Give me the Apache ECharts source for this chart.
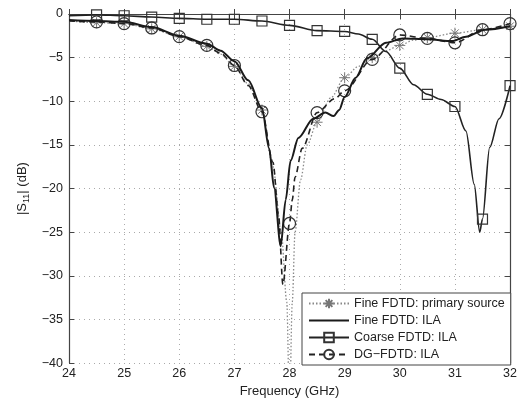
<!DOCTYPE html>
<html>
<head>
<meta charset="utf-8">
<script src="https://cdn.jsdelivr.net/npm/echarts@6/dist/echarts.min.js"></script>
<style>
  html, body { margin: 0; padding: 0; background: #fff; }
  #chart { width: 520px; height: 403px; }
</style>
</head>
<body>
<div id="chart"></div>
<script>
// GHz / dB
var primaryFreq = [24, 24.5, 25, 25.5, 26, 26.5, 26.75, 27, 27.25, 27.5, 27.7, 27.85, 27.95, 28.0, 28.05, 28.1, 28.2, 28.32, 28.5, 28.75, 29, 29.25, 29.5, 29.75, 30, 30.25, 30.5, 31, 31.5, 32];
var primaryS11 = [-0.8, -1.0, -1.1, -1.7, -2.6, -3.7, -4.6, -6.0, -8.0, -11.0, -17.5, -25, -33, -45, -33, -25, -19, -15, -12.4, -9.6, -7.3, -6.0, -5.0, -4.2, -3.6, -3.0, -2.7, -2.2, -1.8, -1.4];

var fineFreq = [24, 24.5, 25, 25.5, 26, 26.5, 26.75, 27, 27.25, 27.5, 27.63, 27.72, 27.84, 27.93, 28.02, 28.16, 28.43, 28.65, 28.8, 28.9, 29.0, 29.2, 29.4, 29.75, 30.05, 30.5, 30.95, 31.2, 31.55, 32];
var fineS11 = [-0.7, -0.8, -0.9, -1.5, -2.5, -3.4, -4.2, -5.4, -7.6, -10.8, -15.4, -19.9, -26.6, -21.3, -16.8, -14.2, -12.0, -11.3, -11.7, -11.0, -9.5, -7.3, -5.1, -3.3, -2.8, -2.9, -3.1, -2.6, -1.8, -1.4];

var coarseFreq = [24, 24.5, 25, 25.5, 26, 26.5, 27, 27.5, 28, 28.5, 29, 29.25, 29.5, 29.75, 30, 30.25, 30.5, 30.75, 31, 31.2, 31.35, 31.45, 31.5, 31.63, 31.8, 32];
var coarseS11 = [-0.2, -0.1, -0.2, -0.35, -0.5, -0.6, -0.6, -0.8, -1.3, -1.9, -2.0, -2.3, -2.9, -4.3, -6.2, -8.1, -9.2, -9.8, -10.6, -13.4, -19.5, -25, -23.5, -15.3, -12, -8.2];

var dgFreq = [24, 24.5, 25, 25.5, 26, 26.5, 26.75, 27, 27.25, 27.5, 27.7, 27.8, 27.88, 28.0, 28.05, 28.1, 28.23, 28.5, 28.82, 29, 29.5, 30, 30.5, 31, 31.5, 32];
var dgS11 = [-0.8, -0.9, -1.1, -1.6, -2.6, -3.6, -4.5, -5.9, -8.2, -11.2, -17, -23, -31, -24, -21.3, -18.7, -15.4, -11.3, -9.7, -8.8, -5.2, -2.4, -2.8, -3.3, -1.8, -1.1];

var xTicks = [24, 25, 26, 27, 28, 29, 30, 31, 32];
var yTicks = [-40, -35, -30, -25, -20, -15, -10, -5, 0];

var names = ['Fine FDTD: primary source', 'Fine FDTD: ILA', 'Coarse FDTD: ILA', 'DG\u2212FDTD: ILA'];

// markers only every 0.5 GHz from 24.5
function toData(xs, ys, marked) {
  return xs.map(function (x, i) {
    var d = { value: [x, ys[i]] };
    if (!marked || !(x >= 24.5 && Math.abs(x * 2 - Math.round(x * 2)) < 1e-6)) d.symbol = 'none';
    return d;
  });
}

var axisCol = '#444';
var font = 'Liberation Sans, Arial, sans-serif';
var minus = function (v) { return String(v).replace('-', '\u2212'); };

var chart = echarts.init(document.getElementById('chart'));
chart.setOption({
  animation: false,
  grid: { left: 69, right: 2, top: 14, bottom: 35 },
  legend: {
    orient: 'vertical',
    left: 302, top: 293,
    padding: [4, 6, 4, 6],
    itemGap: 4,
    itemWidth: 40,
    itemHeight: 12,
    backgroundColor: '#fff',
    borderColor: axisCol,
    borderWidth: 1,
    borderRadius: 0,
    textStyle: { fontFamily: font, fontSize: 12.5, color: '#222' },
    data: [
      names[0],
      { name: names[1], icon: 'path://M0,0L40,0L40,2L0,2Z', itemStyle: { color: '#1a1a1a' } },
      names[2],
      names[3]
    ]
  },
  xAxis: [{
    type: 'value', min: xTicks[0], max: xTicks[xTicks.length - 1], interval: 1,
    position: 'bottom',
    name: 'Frequency (GHz)', nameLocation: 'middle', nameGap: 18,
    nameTextStyle: { fontFamily: font, fontSize: 13, color: '#222' },
    axisLine: { lineStyle: { color: axisCol, width: 1.2 } },
    axisTick: { inside: true, length: 5, lineStyle: { color: axisCol } },
    axisLabel: { fontFamily: font, fontSize: 12.5, color: '#222', margin: 4 },
    splitLine: { show: true, lineStyle: { color: '#aaa', type: [1, 4] } }
  }, {
    type: 'value', min: 24, max: 32, interval: 1, position: 'top',
    axisLine: { lineStyle: { color: axisCol, width: 1.2 } },
    axisTick: { inside: true, length: 5, lineStyle: { color: axisCol } },
    axisLabel: { show: false }, splitLine: { show: false }
  }],
  yAxis: [{
    type: 'value', min: yTicks[0], max: yTicks[yTicks.length - 1], interval: 5,
    position: 'left',
    name: '|S{sub|11}| (dB)', nameLocation: 'middle', nameGap: 38, nameRotate: 90,
    nameTextStyle: {
      fontFamily: font, fontSize: 13, color: '#222',
      rich: { sub: { fontFamily: font, fontSize: 9, color: '#222', padding: [7, 0, 0, 0] } }
    },
    axisLine: { lineStyle: { color: axisCol, width: 1.2 } },
    axisTick: { inside: true, length: 5, lineStyle: { color: axisCol } },
    axisLabel: { fontFamily: font, fontSize: 12.5, color: '#222', margin: 6, formatter: minus },
    splitLine: { show: true, lineStyle: { color: '#aaa', type: [1, 4] } }
  }, {
    type: 'value', min: -40, max: 0, interval: 5, position: 'right',
    axisLine: { lineStyle: { color: axisCol, width: 1.2 } },
    axisTick: { inside: true, length: 5, lineStyle: { color: axisCol } },
    axisLabel: { show: false }, splitLine: { show: false }
  }],
  series: [{
    name: names[0], type: 'line', smooth: 0.3, smoothMonotone: 'x',
    data: toData(primaryFreq, primaryS11, true),
    showAllSymbol: true,
    symbol: 'path://M5,0L5,10M0,5L10,5M1.5,1.5L8.5,8.5M8.5,1.5L1.5,8.5',
    symbolSize: 11,
    lineStyle: { color: '#888', width: 1.3, type: [1.5, 2] },
    itemStyle: { color: 'rgba(0,0,0,0)', borderColor: '#777', borderWidth: 1 },
    z: 2
  }, {
    name: names[1], type: 'line', smooth: 0.3, smoothMonotone: 'x',
    data: toData(fineFreq, fineS11, false),
    symbol: 'none',
    lineStyle: { color: '#1a1a1a', width: 2 },
    itemStyle: { color: '#1a1a1a' },
    z: 4
  }, {
    name: names[2], type: 'line', smooth: 0.3, smoothMonotone: 'x',
    data: toData(coarseFreq, coarseS11, true),
    showAllSymbol: true,
    symbol: 'rect', symbolSize: 10,
    lineStyle: { color: '#222', width: 1.6 },
    itemStyle: { color: 'rgba(0,0,0,0)', borderColor: '#333', borderWidth: 1.2 },
    z: 3
  }, {
    name: names[3], type: 'line', smooth: 0.3, smoothMonotone: 'x',
    data: toData(dgFreq, dgS11, true),
    showAllSymbol: true,
    symbol: 'circle', symbolSize: 12,
    lineStyle: { color: '#222', width: 1.6, type: [6, 4] },
    itemStyle: { color: 'rgba(0,0,0,0)', borderColor: '#333', borderWidth: 1.2 },
    z: 3
  }]
});
</script>
</body>
</html>
